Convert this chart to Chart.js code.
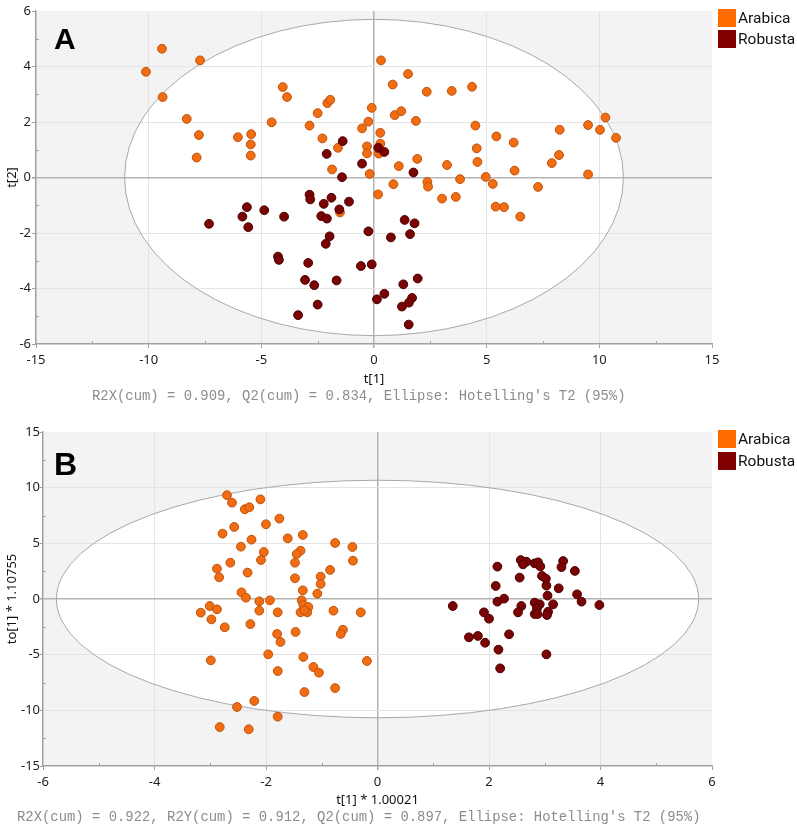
<!DOCTYPE html>
<html><head><meta charset="utf-8">
<script src="https://cdn.jsdelivr.net/npm/chart.js@4/dist/chart.umd.min.js"></script>
<style>
html,body{margin:0;padding:0;background:#fff;}
#wrap{position:relative;width:797px;height:830px;overflow:hidden;}
.cv{position:absolute;left:0;}
.lbl{position:absolute;font-family:"Liberation Sans",Arial,sans-serif;font-weight:bold;line-height:1;color:#000;}
.note{position:absolute;font-family:"Liberation Mono","DejaVu Sans Mono",monospace;font-size:13.9px;color:#8c8c8c;line-height:16px;white-space:pre;}
.leg{position:absolute;left:718px;font-family:Roboto,"Noto Sans",sans-serif;font-size:15.5px;color:#111;}
.leg .row{display:flex;align-items:center;}
.leg .sw{display:inline-block;width:18px;height:18px;margin-right:2px;}
</style></head><body>
<div id="wrap">
  <div class="cv" style="top:0;"><canvas id="cA" width="797" height="410"></canvas></div>
  <div class="cv" style="top:415px;"><canvas id="cB" width="797" height="415"></canvas></div>
  <div class="lbl" style="left:54px;top:24px;font-size:30px;">A</div>
  <div class="lbl" style="left:54px;top:448px;font-size:32px;">B</div>
  <div class="note" style="left:92px;top:388px;">R2X(cum) = 0.909, Q2(cum) = 0.834, Ellipse: Hotelling's T2 (95%)</div>
  <div class="note" style="left:17px;top:809px;">R2X(cum) = 0.922, R2Y(cum) = 0.912, Q2(cum) = 0.897, Ellipse: Hotelling's T2 (95%)</div>
  <div class="leg" id="legA" style="top:7px;"></div>
  <div class="leg" id="legB" style="top:428px;"></div>
</div>
<script>
const categories = ['Arabica', 'Robusta'];
const legendColors = ['#ff6a00', '#800000'];

// Panel A: PCA scores t[1] vs t[2]
const arabicaA = [[-10.12,3.81],[-9.41,4.64],[-7.72,4.22],[-9.38,2.90],[-8.31,2.11],[-7.77,1.53],[-7.87,0.72],[-6.04,1.45],[-5.45,1.56],[-5.47,1.19],[-5.47,0.79],[-4.54,1.99],[-4.05,3.26],[-3.86,2.90],[-2.86,1.87],[-2.50,2.32],[-2.07,2.68],[-1.94,2.80],[-2.29,1.41],[-1.60,1.07],[-1.86,0.29],[-0.53,1.77],[-0.25,2.01],[-0.10,2.51],[0.28,1.61],[-0.31,1.12],[-0.31,0.87],[0.28,1.22],[0.21,0.86],[-0.19,0.13],[0.31,4.22],[0.83,3.35],[0.92,2.25],[1.10,0.41],[0.86,-0.24],[0.18,-0.61],[1.51,3.73],[2.34,3.09],[3.45,3.12],[4.35,3.27],[1.21,2.39],[1.86,2.04],[4.50,1.87],[5.43,1.48],[6.20,1.26],[8.24,1.72],[9.50,1.89],[10.03,1.72],[10.27,2.16],[10.74,1.43],[4.56,1.05],[4.59,0.56],[8.21,0.81],[7.89,0.52],[9.50,0.11],[1.92,0.67],[3.24,0.45],[6.24,0.25],[3.82,-0.06],[4.96,0.02],[5.27,-0.23],[7.28,-0.34],[2.37,-0.16],[2.40,-0.33],[3.02,-0.76],[3.63,-0.70],[5.40,-1.05],[5.77,-1.07],[6.49,-1.41],[-1.51,-1.26]];
const robustaA = [[-1.39,1.31],[-2.10,0.85],[-0.53,0.50],[-1.42,0.01],[0.19,1.07],[0.46,0.92],[1.75,0.18],[1.36,-1.53],[1.80,-1.65],[1.60,-2.04],[0.75,-2.16],[1.94,-3.64],[1.30,-3.85],[0.46,-4.19],[1.69,-4.34],[1.55,-4.51],[1.24,-4.65],[1.54,-5.30],[-2.86,-0.62],[-2.83,-0.79],[-1.89,-0.73],[-2.23,-0.95],[-1.11,-0.87],[-1.54,-1.15],[-3.99,-1.41],[-2.34,-1.39],[-2.09,-1.48],[-0.25,-1.94],[-1.97,-2.12],[-2.14,-2.39],[-4.26,-2.85],[-4.22,-2.97],[-2.92,-3.08],[-0.58,-3.19],[-0.10,-3.13],[-3.06,-3.69],[-2.65,-3.88],[-1.66,-3.71],[0.13,-4.39],[-2.50,-4.58],[-3.37,-4.96],[-7.32,-1.67],[-5.64,-1.07],[-5.84,-1.41],[-5.58,-1.79],[-4.87,-1.18]];

// Panel B: OPLS-DA scores t[1] vs to[1]
const arabicaB = [[-2.70,9.32],[-2.61,8.65],[-2.38,8.06],[-2.30,8.24],[-2.10,8.95],[-1.76,7.22],[-2.00,6.71],[-2.57,6.47],[-2.78,5.87],[-2.26,5.33],[-1.61,5.45],[-1.34,5.75],[-0.76,5.03],[-0.45,4.67],[-2.45,4.70],[-2.04,4.22],[-1.38,4.34],[-1.45,4.04],[-0.44,3.44],[-2.09,3.50],[-2.64,3.26],[-1.48,3.26],[-2.88,2.72],[-2.33,2.37],[-0.85,2.61],[-2.84,1.95],[-1.48,1.86],[-1.02,2.01],[-1.02,1.35],[-1.34,0.78],[-1.08,0.48],[-2.44,0.60],[-2.36,0.12],[-1.93,-0.12],[-2.12,-0.21],[-1.36,-0.12],[-1.33,-0.54],[-1.24,-0.72],[-1.38,-1.20],[-1.26,-1.20],[-1.31,-1.02],[-3.01,-0.63],[-2.88,-0.93],[-3.17,-1.23],[-2.12,-1.05],[-1.79,-1.20],[-0.79,-1.05],[-0.30,-1.20],[-2.98,-1.83],[-2.74,-2.54],[-2.28,-2.25],[-1.80,-3.14],[-1.74,-3.86],[-1.47,-2.96],[-0.62,-2.76],[-0.66,-3.14],[-1.96,-4.97],[-2.99,-5.51],[-1.33,-5.21],[-0.19,-5.57],[-1.79,-6.47],[-1.15,-6.11],[-1.05,-6.62],[-0.76,-8.00],[-1.31,-8.36],[-2.21,-9.16],[-2.52,-9.70],[-1.79,-10.57],[-2.83,-11.50],[-2.31,-11.70]];
const robustaB = [[2.57,3.50],[2.67,3.35],[2.61,3.11],[2.82,3.20],[2.88,3.29],[2.92,2.93],[3.33,3.41],[3.30,2.87],[2.15,2.91],[3.54,2.52],[2.55,1.92],[2.95,2.07],[3.02,1.83],[3.03,1.20],[2.12,1.17],[3.25,0.96],[3.05,0.30],[3.58,0.42],[2.27,0.03],[2.15,-0.24],[3.66,-0.24],[3.98,-0.54],[1.35,-0.63],[2.82,-0.33],[2.91,-0.48],[3.15,-0.48],[2.58,-0.63],[2.86,-0.84],[2.52,-1.20],[2.82,-1.35],[2.87,-1.35],[3.06,-1.14],[3.04,-1.44],[1.91,-1.20],[2.00,-1.77],[1.64,-3.44],[1.80,-3.32],[1.93,-3.93],[2.36,-3.17],[2.17,-4.55],[3.03,-4.97],[2.20,-6.23]];

// Tick values
const xTicksA = [-15,-10,-5,0,5,10,15];
const yTicksA = [-6,-4,-2,0,2,4,6];
const xMinorA = [-12.5,-7.5,-2.5,2.5,7.5,12.5];
const yMinorA = [-5,-3,-1,1,3,5];
const xTicksB = [-6,-4,-2,0,2,4,6];
const yTicksB = [-15,-10,-5,0,5,10,15];
const xMinorB = [-5,-3,-1,1,3,5];
const yMinorB = [-12.5,-7.5,-2.5,2.5,7.5,12.5];

// Hotelling's T2 (95%) ellipse semi-axes [t1, t2] in data units
const ellipseA = [11.07, 5.70];
const ellipseB = [5.76, 10.67];

// Legends
function buildLegend(id, rowH){
  const el = document.getElementById(id);
  categories.forEach((c,i)=>{
    const r = document.createElement('div'); r.className='row'; r.style.height=rowH+'px';
    const s = document.createElement('span'); s.className='sw'; s.style.background=legendColors[i];
    r.appendChild(s); r.appendChild(document.createTextNode(c)); el.appendChild(r);
  });
}
buildLegend('legA', 21); buildLegend('legB', 22);

function bgPlugin(ell, minX, minY){
  return {
    id: 'bgEllipse',
    beforeDraw(chart){
      const {ctx, chartArea:a, scales:{x,y}} = chart;
      ctx.save();
      ctx.fillStyle = '#f3f3f3';
      ctx.fillRect(a.left, a.top, a.right-a.left, a.bottom-a.top);
      const cx = x.getPixelForValue(0), cy = y.getPixelForValue(0);
      const rx = Math.abs(x.getPixelForValue(ell[0]) - cx), ry = Math.abs(y.getPixelForValue(ell[1]) - cy);
      ctx.beginPath(); ctx.rect(a.left, a.top, a.right-a.left, a.bottom-a.top); ctx.clip();
      ctx.beginPath(); ctx.ellipse(cx, cy, rx, ry, 0, 0, Math.PI*2);
      ctx.fillStyle = '#ffffff'; ctx.fill();
      ctx.restore();
    },
    beforeDatasetsDraw(chart){
      const {ctx, chartArea:a, scales:{x,y}} = chart;
      const cx = x.getPixelForValue(0), cy = y.getPixelForValue(0);
      const rx = Math.abs(x.getPixelForValue(ell[0]) - cx), ry = Math.abs(y.getPixelForValue(ell[1]) - cy);
      ctx.save();
      ctx.beginPath(); ctx.rect(a.left, a.top, a.right-a.left, a.bottom-a.top); ctx.clip();
      ctx.beginPath(); ctx.ellipse(cx, cy, rx, ry, 0, 0, Math.PI*2);
      ctx.strokeStyle = '#a8a8a8'; ctx.lineWidth = 1; ctx.stroke();
      ctx.restore();
    },
    afterDraw(chart){
      const {ctx, chartArea:a, scales:{x,y}} = chart;
      ctx.save(); ctx.strokeStyle = '#a0a0a0'; ctx.lineWidth = 1;
      minX.forEach(v=>{ const px = Math.round(x.getPixelForValue(v))+0.5; ctx.beginPath(); ctx.moveTo(px, a.bottom); ctx.lineTo(px, a.bottom-3); ctx.stroke(); });
      minY.forEach(v=>{ const py = Math.round(y.getPixelForValue(v))+0.5; ctx.beginPath(); ctx.moveTo(a.left, py); ctx.lineTo(a.left+3, py); ctx.stroke(); });
      ctx.restore();
    }
  };
}

function gridOpts(){
  return {
    color: c => {
      if (!c.tick) return '#e4e4e4';
      if (c.tick.value === 0) return '#b4b4b4';
      if (c.index === 0 || c.index === c.scale.ticks.length-1) return 'rgba(0,0,0,0)';
      return '#e4e4e4';
    },
    lineWidth: c => (c.tick && c.tick.value === 0) ? 1.5 : 1,
    drawTicks: true, tickLength: 4, tickColor: '#a0a0a0'
  };
}

const tickFont = {family: '"Noto Sans", sans-serif', size: 13};
const titleFont = {family: '"Noto Sans", sans-serif', size: 13};

function makeChart(id, ara, rob, xt, yt, ell, minX, minY, xTitle, yTitle, yW, xH, pad, yPadTick, yTl){
  return new Chart(document.getElementById(id), {
    type: 'scatter',
    data: {
      datasets: [
        {label: categories[0], data: ara.map(p=>({x:p[0], y:p[1]})), backgroundColor:'#f26c12', borderColor:'#bf520b', borderWidth:1, pointRadius:4.4, pointHoverRadius:4.4, order:1},
        {label: categories[1], data: rob.map(p=>({x:p[0], y:p[1]})), backgroundColor:'#7a0303', borderColor:'#4d0000', borderWidth:1, pointRadius:4.4, pointHoverRadius:4.4, order:0}
      ]
    },
    options: {
      responsive: false, animation: false, devicePixelRatio: 1,
      layout: {padding: pad},
      plugins: {legend: {display:false}, tooltip: {enabled:false}},
      scales: {
        x: {
          type: 'linear', position: 'bottom', min: xt[0], max: xt[xt.length-1],
          afterBuildTicks: s => { s.ticks = xt.map(v=>({value:v})); },
          afterFit: s => { s.height = xH; },
          grid: gridOpts(),
          border: {display:true, color:'#a0a0a0', width:1.5},
          ticks: {font: tickFont, color:'#222', padding:4, maxRotation:0, autoSkip:false},
          title: {display:true, text:xTitle, font:titleFont, color:'#111', padding:{top:0,bottom:0}}
        },
        y: {
          type: 'linear', position: 'left', min: yt[0], max: yt[yt.length-1],
          afterBuildTicks: s => { s.ticks = yt.map(v=>({value:v})); },
          afterFit: s => { s.width = yW; },
          grid: Object.assign(gridOpts(), {tickLength: yTl}),
          border: {display:true, color:'#a0a0a0', width:1.5},
          ticks: {font: tickFont, color:'#222', padding:yPadTick, autoSkip:false},
          title: {display:true, text:yTitle, font:titleFont, color:'#111', padding:{top:4,bottom:0}}
        }
      }
    },
    plugins: [bgPlugin(ell, minX, minY)]
  });
}

makeChart('cA', arabicaA, robustaA, xTicksA, yTicksA, ellipseA, xMinorA, yMinorA, 't[1]', 't[2]', 36, 43, {left:0,right:85,top:11,bottom:23}, 1, 4);
makeChart('cB', arabicaB, robustaB, xTicksB, yTicksB, ellipseB, xMinorB, yMinorB, 't[1] * 1.00021', 'to[1] * 1.10755', 43, 42, {left:0,right:85,top:17,bottom:22}, 0, 3);
</script>
</body></html>
